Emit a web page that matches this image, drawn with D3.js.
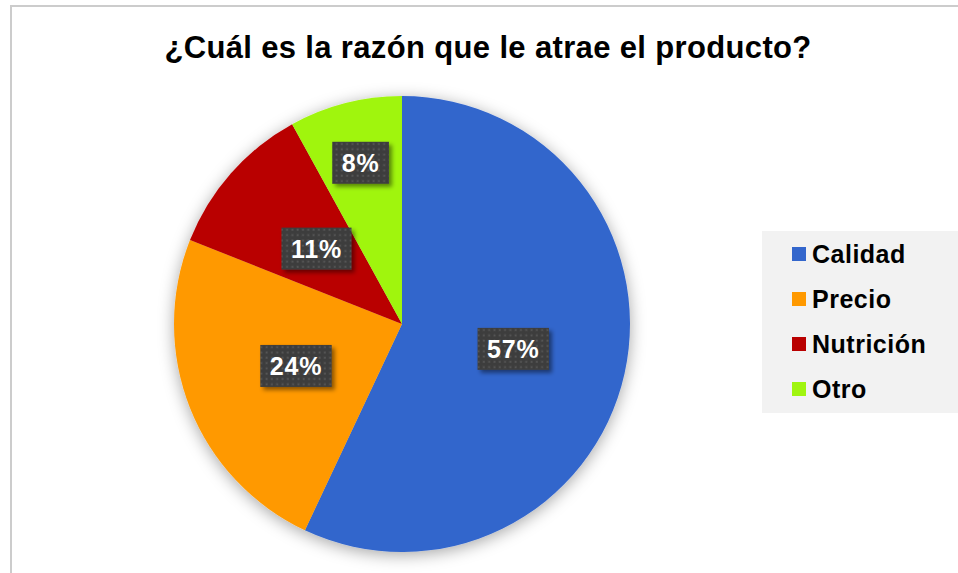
<!DOCTYPE html>
<meta charset="utf-8">
<script src="https://d3js.org/d3.v7.min.js"></script>
<style>
  body { margin: 0; background: #fff; }
  text { font-family: Arial, "Liberation Sans", sans-serif; font-weight: bold; }
</style>
<div id="chart"></div>
<script>
  // data
  var categories = ["Calidad", "Precio", "Nutrición", "Otro"];
  var values = [57, 24, 11, 8];
  var colors = ["#3366cc", "#ff9900", "#b90000", "#a0f50f"];
  var title = "¿Cuál es la razón que le atrae el producto?";

  var width = 958, height = 573;
  var cx = 402, cy = 324, radius = 228;

  var svg = d3.select("#chart")
    .append("svg")
    .attr("width", width)
    .attr("height", height);

  var defs = svg.append("defs");

  // soft shadow round the pie
  var f1 = defs.append("filter").attr("id", "pieShadow")
    .attr("x", "-20%").attr("y", "-20%").attr("width", "140%").attr("height", "140%");
  f1.append("feDropShadow")
    .attr("dx", 0).attr("dy", 3)
    .attr("stdDeviation", 8)
    .attr("flood-color", "#000")
    .attr("flood-opacity", 0.35);

  // shadow for the label boxes
  var f2 = defs.append("filter").attr("id", "boxShadow")
    .attr("x", "-20%").attr("y", "-20%").attr("width", "150%").attr("height", "150%");
  f2.append("feDropShadow")
    .attr("dx", 3).attr("dy", 3)
    .attr("stdDeviation", 2)
    .attr("flood-color", "#000")
    .attr("flood-opacity", 0.45);

  // dotted fill of the label boxes
  var pat = defs.append("pattern").attr("id", "dots")
    .attr("patternUnits", "userSpaceOnUse")
    .attr("width", 5.3).attr("height", 5.3);
  pat.append("rect").attr("width", 5.3).attr("height", 5.3).attr("fill", "#3e3e3e");
  pat.append("rect").attr("x", 1.5).attr("y", 1.5).attr("width", 1.8).attr("height", 1.8).attr("fill", "#585858");

  // chart frame
  svg.append("rect")
    .attr("x", 11).attr("y", 6)
    .attr("width", 960).attr("height", 580)
    .attr("fill", "none")
    .attr("stroke", "#cccccc")
    .attr("stroke-width", 2);

  // title
  svg.append("text")
    .attr("x", 488)
    .attr("y", 58)
    .attr("text-anchor", "middle")
    .style("font-size", "31px")
    .style("letter-spacing", "0.35px")
    .text(title);

  var pie = d3.pie().sort(null).value(function (d) { return d; });
  var arcs = pie(values);
  var arc = d3.arc().innerRadius(0).outerRadius(radius);

  var g = svg.append("g").attr("transform", "translate(" + cx + "," + cy + ")");

  g.append("g")
    .attr("filter", "url(#pieShadow)")
    .selectAll("path")
    .data(arcs)
    .enter()
    .append("path")
    .attr("d", arc)
    .attr("fill", function (d, i) { return colors[i]; });

  // data labels (small slices sit further out, like Excel's best fit)
  var labels = g.selectAll(".lbl")
    .data(arcs)
    .enter()
    .append("g")
    .attr("class", "lbl")
    .attr("transform", function (d) {
      var f = (d.data < 10) ? 0.73 : 0.5;
      var a = d3.arc().innerRadius(radius * f).outerRadius(radius * f);
      return "translate(" + a.centroid(d) + ")";
    });

  labels.each(function (d) {
    var lg = d3.select(this);
    var box = lg.append("rect").attr("fill", "url(#dots)").attr("filter", "url(#boxShadow)");
    var t = lg.append("text")
      .attr("text-anchor", "middle")
      .attr("y", 9)
      .attr("fill", "#fff")
      .style("font-size", "25px")
      .style("letter-spacing", "0.8px")
      .text(d.data + "%");
    var w = t.node().getComputedTextLength() + 19;
    box.attr("x", -w / 2).attr("y", -21).attr("width", w).attr("height", 42);
  });

  // legend
  var legend = svg.append("g");
  legend.append("rect")
    .attr("x", 762).attr("y", 231)
    .attr("width", 200).attr("height", 182)
    .attr("fill", "#f2f2f2");

  var ly = d3.scalePoint().domain(categories).range([254, 389]);

  var rows = legend.selectAll(".row")
    .data(categories)
    .enter()
    .append("g")
    .attr("class", "row")
    .attr("transform", function (d) { return "translate(792," + ly(d) + ")"; });

  rows.append("rect")
    .attr("x", 0).attr("y", -7)
    .attr("width", 14).attr("height", 14)
    .attr("fill", function (d, i) { return colors[i]; });

  rows.append("text")
    .attr("x", 20)
    .attr("y", 9)
    .style("font-size", "25px")
    .style("letter-spacing", "0.5px")
    .attr("fill", "#000")
    .text(function (d) { return d; });
</script>
